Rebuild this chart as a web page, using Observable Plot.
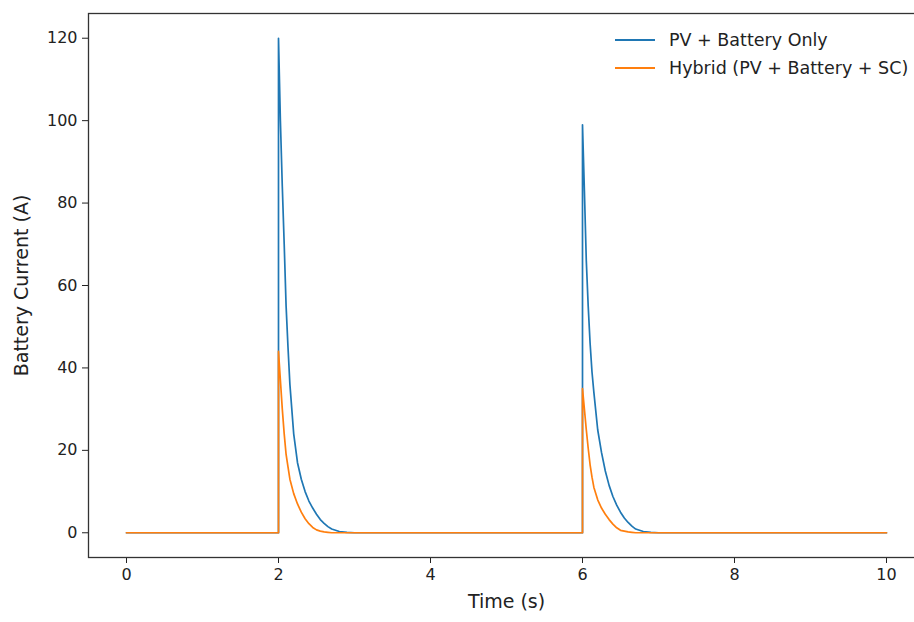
<!DOCTYPE html>
<html>
<head>
<meta charset="utf-8">
<script src="https://cdn.jsdelivr.net/npm/d3@7"></script>
<script src="https://cdn.jsdelivr.net/npm/@observablehq/plot@0.6"></script>
<style>
  html, body { margin: 0; padding: 0; background: #fff; overflow: hidden; width: 914px; height: 622px; }
  #wrap { position: relative; width: 914px; height: 622px; overflow: hidden; font-family: "DejaVu Sans", sans-serif; }
  #chart svg { display: block; }
  #legend { position: absolute; left: 615px; top: 26px; font-size: 17.5px; color: #222; }
  .row { display: flex; align-items: center; height: 28px; }
  .sw { display: inline-block; width: 40px; height: 2px; margin-right: 14px; }
</style>
</head>
<body>
<div id="wrap"><div id="chart"></div>
<div id="legend"></div></div>
<script>
// Time samples (s), shared by both series
const time = [0, 2, 2, 2.025, 2.05, 2.075, 2.1, 2.125, 2.15, 2.2, 2.25, 2.3, 2.35, 2.4, 2.45, 2.5, 2.55, 2.6, 2.65, 2.7, 2.8, 2.9, 3.0,
              6, 6, 6.025, 6.05, 6.075, 6.1, 6.125, 6.15, 6.2, 6.25, 6.3, 6.35, 6.4, 6.45, 6.5, 6.55, 6.6, 6.65, 6.7, 6.8, 6.9, 7.0, 10];
// Battery current (A), PV + Battery only
const pvBattery = [0, 0, 120, 100, 84, 70, 55, 45, 36, 24, 17, 13, 10, 7.7, 6, 4.5, 3.2, 2.3, 1.5, 0.9, 0.3, 0.1, 0,
                   0, 99, 83, 66, 55, 46, 39, 34, 25, 19.5, 15, 11.5, 8.8, 6.7, 5, 3.6, 2.5, 1.6, 0.9, 0.3, 0.1, 0, 0];
// Battery current (A), Hybrid (PV + Battery + SC)
const hybrid = [0, 0, 44, 37, 30, 24, 19, 16, 13, 9.5, 7, 5, 3.4, 2.2, 1.3, 0.7, 0.4, 0.2, 0.1, 0, 0, 0, 0,
                0, 35, 30, 25, 20.5, 16.5, 13.5, 11, 8, 6, 4.5, 3.2, 2.1, 1.2, 0.6, 0.4, 0.2, 0.1, 0, 0, 0, 0, 0];
const seriesNames = ["PV + Battery Only", "Hybrid (PV + Battery + SC)"];
const seriesColors = ["#1f77b4", "#ff7f0e"];
const xTicks = [0, 2, 4, 6, 8, 10];
const yTicks = [0, 20, 40, 60, 80, 100, 120];

const blueData = time.map((t, i) => ({t, v: pvBattery[i]}));
const orangeData = time.map((t, i) => ({t, v: hybrid[i]}));

const chart = Plot.plot({
  width: 914,
  height: 622,
  marginLeft: 88,
  marginRight: -10,
  marginTop: 13,
  marginBottom: 65,
  style: {fontFamily: "DejaVu Sans, sans-serif", fontSize: "16px", color: "#222", background: "#fff", overflow: "hidden"},
  x: {domain: [-0.5, 10.5]},
  y: {domain: [-6, 126]},
  marks: [
    Plot.axisX({ticks: xTicks, tickSize: 6, tickPadding: 5, tickFormat: d => String(d), fontSize: 16, label: null}),
    Plot.axisY({ticks: yTicks, tickSize: 6, tickPadding: 5, tickFormat: d => String(d), fontSize: 16, label: null}),
    Plot.axisX({ticks: [], tickSize: 0, label: "Time (s)", labelAnchor: "center", labelArrow: "none", labelOffset: 50, fontSize: 19}),
    Plot.axisY({ticks: [], tickSize: 0, label: "Battery Current (A)", labelAnchor: "center", labelArrow: "none", labelOffset: 74, fontSize: 19}),
    Plot.line(blueData, {x: "t", y: "v", stroke: seriesColors[0], strokeWidth: 1.7}),
    Plot.line(orangeData, {x: "t", y: "v", stroke: seriesColors[1], strokeWidth: 1.7}),
    Plot.frame({stroke: "#333", strokeWidth: 1.3})
  ]
});
document.getElementById("chart").appendChild(chart);

const legend = document.getElementById("legend");
seriesNames.forEach((name, i) => {
  const row = document.createElement("div");
  row.className = "row";
  row.innerHTML = `<span class="sw" style="background:${seriesColors[i]}"></span><span>${name}</span>`;
  legend.appendChild(row);
});
</script>
</body>
</html>
